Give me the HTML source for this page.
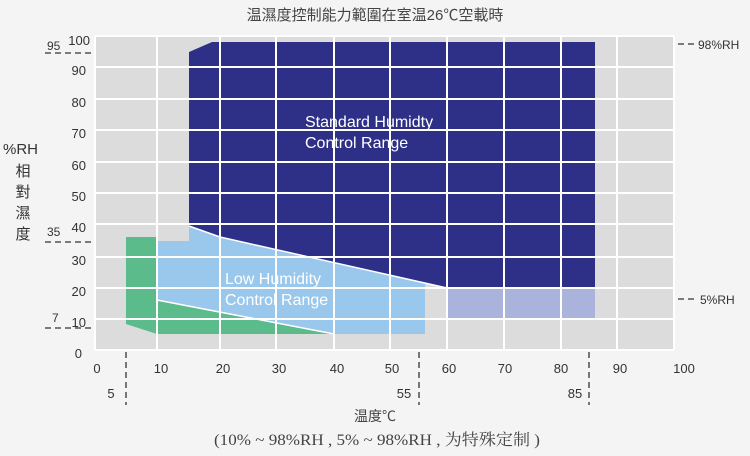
<!DOCTYPE html><html><head><meta charset="utf-8"><style>body{margin:0;background:#f4f4f4}svg{display:block}text{font-family:"Liberation Sans","Noto Sans CJK TC",sans-serif}</style></head><body>
<svg width="750" height="456" viewBox="0 0 750 456" fill="#333">
<text x="375" y="20" font-size="15" text-anchor="middle" fill="#444">温濕度控制能力範圍在室温26℃空載時</text>
<rect x="95" y="36" width="579" height="314" fill="#dcdcdc"/>
<polygon points="126,237 157,237 157,300 334,334 157,334 126,324" fill="#5cbb8a"/>
<polygon points="157,241 189,241 189,226 220,237 447,288 425,284 425,334 334,334 157,300" fill="#9ac8ec"/>
<polygon points="189,52 212,42 595,42 595,288 447,288 220,237 189,226" fill="#2e3088"/>
<rect x="447" y="288" width="148" height="30" fill="#aab3dc"/>
<g stroke="#fff" stroke-width="2">
<line x1="157" y1="36" x2="157" y2="350"/><line x1="220" y1="36" x2="220" y2="350"/><line x1="276" y1="36" x2="276" y2="350"/><line x1="334" y1="36" x2="334" y2="350"/><line x1="390" y1="36" x2="390" y2="350"/><line x1="447" y1="36" x2="447" y2="350"/><line x1="504" y1="36" x2="504" y2="350"/><line x1="561" y1="36" x2="561" y2="350"/><line x1="617" y1="36" x2="617" y2="350"/>
<line x1="95" y1="67" x2="674" y2="67"/><line x1="95" y1="99" x2="674" y2="99"/><line x1="95" y1="130" x2="674" y2="130"/><line x1="95" y1="162" x2="674" y2="162"/><line x1="95" y1="193" x2="674" y2="193"/><line x1="95" y1="224" x2="674" y2="224"/><line x1="95" y1="257" x2="674" y2="257"/><line x1="95" y1="288" x2="674" y2="288"/><line x1="95" y1="319" x2="674" y2="319"/>
<line x1="95" y1="36" x2="674" y2="36"/><line x1="95" y1="350" x2="674" y2="350"/><line x1="674" y1="36" x2="674" y2="350"/><line x1="95" y1="36" x2="95" y2="350"/>
<polyline points="157,300 334,334" fill="none" stroke-width="1.5"/>
<polyline points="189,226 220,237 447,288" fill="none" stroke-width="1.5"/>
</g>
<g font-size="16" fill="#fff"><text x="305" y="127">Standard  Humidty</text><text x="305" y="148">Control Range</text><text x="225" y="284">Low Humidity</text><text x="225" y="305">Control Range</text></g>
<g font-size="13" text-anchor="end"><text x="90" y="45">100</text><text x="86" y="75">90</text><text x="86" y="107">80</text><text x="86" y="138">70</text><text x="86" y="170">60</text><text x="86" y="201">50</text><text x="86" y="232">40</text><text x="86" y="265">30</text><text x="86" y="296">20</text><text x="86" y="327">10</text><text x="82" y="358">0</text></g>
<g font-size="13" text-anchor="middle"><text x="97" y="373">0</text><text x="161" y="373">10</text><text x="223" y="373">20</text><text x="279" y="373">30</text><text x="337" y="373">40</text><text x="392" y="373">50</text><text x="449" y="373">60</text><text x="505" y="373">70</text><text x="561" y="373">80</text><text x="620" y="373">90</text><text x="684" y="373">100</text>
<text x="111" y="398">5</text><text x="404" y="398">55</text><text x="575" y="398">85</text></g>
<g stroke="#333" stroke-width="1.3" stroke-dasharray="6,4">
<line x1="45" y1="53" x2="95" y2="53"/><line x1="45" y1="242" x2="95" y2="242"/><line x1="45" y1="328" x2="95" y2="328"/>
<line x1="126" y1="352" x2="126" y2="405"/><line x1="419" y1="352" x2="419" y2="405"/><line x1="589" y1="352" x2="589" y2="405"/>
<line x1="678" y1="44" x2="694" y2="44"/><line x1="678" y1="299" x2="694" y2="299"/></g>
<g font-size="12"><text x="47" y="50">95</text><text x="47" y="236">35</text><text x="52" y="322">7</text><text x="698" y="49">98%RH</text><text x="700" y="304">5%RH</text></g>
<text x="3" y="154" font-size="15">%RH</text>
<g font-size="15" text-anchor="middle"><text x="23" y="176">相</text><text x="23" y="197">對</text><text x="23" y="218">濕</text><text x="23" y="239">度</text></g>
<text x="375" y="421" font-size="14" text-anchor="middle" fill="#444">温度℃</text>
<text x="214" y="445" font-size="16" fill="#444" textLength="326" lengthAdjust="spacingAndGlyphs" style="font-family:'Liberation Serif','Noto Serif CJK SC',serif">(10% ~ 98%RH , 5% ~ 98%RH , 为特殊定制 )</text>
</svg></body></html>
